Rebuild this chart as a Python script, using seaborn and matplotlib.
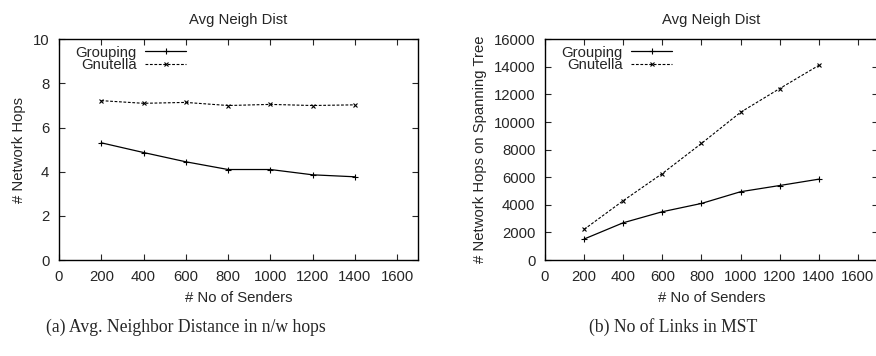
import matplotlib
matplotlib.use("Agg")
import matplotlib.pyplot as plt
import seaborn as sns
import pandas as pd

senders = [200, 400, 600, 800, 1000, 1200, 1400]
hops_grouping = [5.31, 4.87, 4.45, 4.10, 4.10, 3.86, 3.77]
hops_gnutella = [7.22, 7.10, 7.14, 7.00, 7.05, 7.00, 7.03]
mst_grouping = [1520, 2700, 3500, 4100, 4950, 5400, 5860]
mst_gnutella = [2220, 4300, 6270, 8450, 10710, 12430, 14110]
series_names = ["Grouping", "Gnutella"]
panel_title = "Avg Neigh Dist"
xlabel = "# No of Senders"
ylabels = ["# Network Hops", "# Network Hops on Spanning Tree"]
captions = ["(a) Avg. Neighbor Distance in n/w hops", "(b) No of Links in MST"]
yticks_a = [0, 2, 4, 6, 8, 10]
yticks_b = [0, 2000, 4000, 6000, 8000, 10000, 12000, 14000, 16000]
xticks = [0, 200, 400, 600, 800, 1000, 1200, 1400, 1600]

sns.set_style("ticks")
plt.rcParams["font.family"] = ["Liberation Sans", "DejaVu Sans"]
plt.rcParams["axes.linewidth"] = 1.0
FS = 10.7

fig = plt.figure(figsize=(8.76, 3.56), dpi=100)
W, H = 876.0, 356.0
bottom, top = 260.0, 39.3
axA = fig.add_axes([59 / W, (H - bottom) / H, (418.3 - 59) / W, (bottom - top) / H])
axB = fig.add_axes([545 / W, (H - bottom) / H, (877.5 - 545) / W, (bottom - top) / H])

def draw(ax, g, n, yticks, ylabel, width_px, height_px):
    df = pd.DataFrame({"x": senders, "g": g, "n": n})
    sns.lineplot(data=df, x="x", y="g", ax=ax, color="black", lw=0.9,
                 marker="+", markersize=4, markeredgewidth=0.8,
                 markeredgecolor="black", label=series_names[0])
    sns.lineplot(data=df, x="x", y="n", ax=ax, color="black", lw=0.8,
                 linestyle=(0, (2.5, 1.5)), marker="x", markersize=3,
                 markeredgewidth=0.8, markeredgecolor="black",
                 label=series_names[1])
    ax.set_xlim(0, 1700)
    ax.set_ylim(yticks[0], yticks[-1])
    ax.set_xticks(xticks)
    ax.set_yticks(yticks)
    ax.tick_params(direction="in", top=True, right=True, length=4, width=0.8,
                   labelsize=FS, pad=7)
    for s in ax.spines.values():
        s.set_visible(True)
        s.set_color("black")
    ax.set_xlabel(xlabel, fontsize=FS, labelpad=5)
    ax.set_ylabel(ylabel, fontsize=FS, labelpad=5)
    ax.set_title(panel_title, fontsize=FS, pad=11)
    anchor_x = 131.0 / width_px
    anchor_y = 1.0 - 2.5 / height_px
    ax.legend(loc="upper right", bbox_to_anchor=(anchor_x, anchor_y), frameon=False,
              markerfirst=False, fontsize=FS, handlelength=2.75,
              handletextpad=0.6, labelspacing=-0.1, borderaxespad=0.0,
              borderpad=0.25)

draw(axA, hops_grouping, hops_gnutella, yticks_a, ylabels[0], 359.3, 220.7)
draw(axB, mst_grouping, mst_gnutella, yticks_b, ylabels[1], 332.5, 220.7)

cap_font = ["Liberation Serif", "DejaVu Serif"]
fig.text(185.5 / W, (H - 327) / H, captions[0], ha="center", va="center",
         fontsize=12.7, family=cap_font)
fig.text(673 / W, (H - 327) / H, captions[1], ha="center", va="center",
         fontsize=12.7, family=cap_font)

fig.savefig("out.png", dpi=100)
